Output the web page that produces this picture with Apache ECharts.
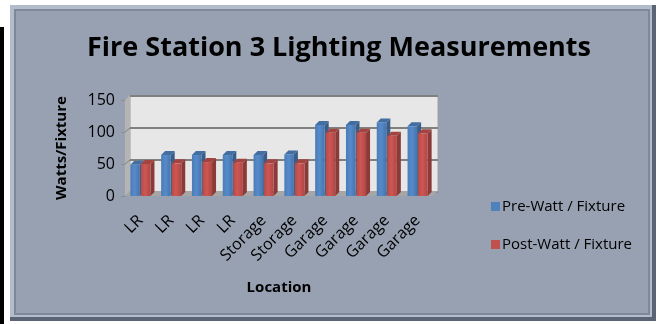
<!DOCTYPE html>
<html>
<head>
<meta charset="utf-8">
<script src="https://cdn.jsdelivr.net/npm/echarts@6/dist/echarts.min.js"></script>
<style>
  html, body { margin: 0; padding: 0; background: #ffffff; }
  #chart { width: 661px; height: 324px; }
</style>
</head>
<body>
<div id="chart"></div>
<script>
// Lighting measurements per fixture location
const locations = ['LR', 'LR', 'LR', 'LR', 'Storage', 'Storage', 'Garage', 'Garage', 'Garage', 'Garage'];
const preWatt = [49, 64, 64, 64, 64, 65, 111, 111, 115, 109];
const postWatt = [50, 51, 53, 52, 51, 51, 99, 99, 94, 98];
const yTicks = [0, 50, 100, 150];

const FONT = "'Liberation Sans Narrow', 'Open Sans', 'Noto Sans', sans-serif";
const DEPTH = 4;

function shade(hex, f) {
  const n = parseInt(hex.slice(1), 16);
  let r = (n >> 16) & 255, g = (n >> 8) & 255, b = n & 255;
  r = Math.max(0, Math.min(255, Math.round(r * f)));
  g = Math.max(0, Math.min(255, Math.round(g * f)));
  b = Math.max(0, Math.min(255, Math.round(b * f)));
  return 'rgb(' + r + ',' + g + ',' + b + ')';
}

// Draws a bar with a simple extruded look: front face, right side and top
function boxRenderer(color, side) {
  return function (params, api) {
    const idx = api.value(0);
    const top = api.coord([idx, api.value(1)]);
    const base = api.coord([idx, 0]);
    const band = api.size([1, 0])[0];
    const bw = band * 0.31;
    const x = side < 0 ? top[0] - bw - 0.5 : top[0] + 0.5;
    const y = top[1];
    const h = base[1] - top[1];
    return {
      type: 'group',
      children: [
        {
          type: 'polygon',
          shape: { points: [[x + bw, y], [x + bw + DEPTH, y - DEPTH], [x + bw + DEPTH, y + h - DEPTH], [x + bw, y + h]] },
          style: { fill: shade(color, 0.72) }
        },
        {
          type: 'polygon',
          shape: { points: [[x, y], [x + DEPTH, y - DEPTH], [x + bw + DEPTH, y - DEPTH], [x + bw, y]] },
          style: { fill: shade(color, 0.85) }
        },
        {
          type: 'rect',
          shape: { x: x, y: y, width: bw, height: h },
          style: {
            fill: {
              type: 'linear', x: 0, y: 0, x2: 1, y2: 0,
              colorStops: [
                { offset: 0, color: shade(color, 0.95) },
                { offset: 0.45, color: shade(color, 1.08) },
                { offset: 1, color: shade(color, 0.9) }
              ]
            }
          }
        }
      ]
    };
  };
}

// Slanted gridline stubs over the side wall, joining the front axis to the back wall
function stubRenderer(params, api) {
  const cs = params.coordSys;
  const c = api.coord([0, api.value(1)]);
  return {
    type: 'line',
    shape: { x1: cs.x - DEPTH - 1, y1: c[1] + DEPTH, x2: cs.x, y2: c[1] },
    style: { stroke: '#808080', lineWidth: 1 }
  };
}

function toData(values) {
  return values.map(function (v, i) { return [i, v]; });
}

const chart = echarts.init(document.getElementById('chart'), null, { renderer: 'canvas' });

chart.setOption({
  backgroundColor: '#ffffff',
  animation: false,
  graphic: [
    { type: 'rect', shape: { x: 0, y: 27, width: 4, height: 297 }, style: { fill: '#000000' }, z: -10 },
    // panel with bevelled frame
    { type: 'rect', shape: { x: 10, y: 5, width: 646, height: 316 }, style: { fill: '#5b6472' }, z: -10 },
    { type: 'rect', shape: { x: 10, y: 5, width: 642, height: 312 }, style: { fill: '#b3bccb' }, z: -10 },
    { type: 'rect', shape: { x: 14, y: 9, width: 636, height: 306 }, style: { fill: '#7f8898' }, z: -10 },
    { type: 'rect', shape: { x: 16, y: 11, width: 632, height: 302 }, style: { fill: '#97a1b1' }, z: -10 },
    // side wall and floor of the plot
    { type: 'polygon', shape: { points: [[125, 100], [130, 95], [130, 191], [125, 196]] }, style: { fill: '#b4b4b4' }, z: 1 },
    { type: 'polygon', shape: { points: [[125, 196], [130, 191], [438, 191], [433, 196]] }, style: { fill: '#a6a6a6' }, z: 1 }
  ],
  title: {
    text: 'Fire Station 3 Lighting Measurements',
    left: 334,
    textAlign: 'center',
    top: 30,
    textStyle: { fontFamily: FONT, fontWeight: 'bold', fontSize: 27, color: '#000000' }
  },
  legend: {
    orient: 'vertical',
    left: 486,
    top: 194,
    itemWidth: 9,
    itemHeight: 9,
    itemGap: 23,
    icon: 'rect',
    textStyle: { fontFamily: FONT, fontSize: 15, color: '#000000', padding: [0, 0, 0, -3] },
    data: ['Pre-Watt / Fixture', 'Post-Watt / Fixture']
  },
  grid: [
    // front plane: bars and axes
    { left: 125, right: 228, top: 100, bottom: 128, containLabel: false },
    // back wall, set back by the bar depth, carrying the gridlines
    { left: 130, right: 223, top: 96, bottom: 132, containLabel: false, show: true, backgroundColor: '#e7e7e7', borderColor: '#a0a0a0', borderWidth: 1 }
  ],
  xAxis: [
    {
      type: 'category',
      gridIndex: 0,
      data: locations,
      name: 'Location',
      nameLocation: 'middle',
      nameGap: 84,
      nameTextStyle: { fontFamily: FONT, fontWeight: 'bold', fontSize: 15, color: '#000000' },
      axisLine: { show: false },
      axisTick: { show: false },
      axisLabel: { rotate: 45, interval: 0, margin: 22, fontFamily: FONT, fontSize: 16, color: '#000000' }
    },
    {
      type: 'category',
      gridIndex: 1,
      data: locations,
      axisLine: { show: false },
      axisTick: { show: false },
      axisLabel: { show: false }
    }
  ],
  yAxis: [
    {
      type: 'value',
      gridIndex: 0,
      min: yTicks[0],
      max: yTicks[yTicks.length - 1],
      interval: 50,
      name: 'Watts/Fixture',
      nameLocation: 'middle',
      nameGap: 56,
      nameRotate: 90,
      nameTextStyle: { fontFamily: 'Open Sans, sans-serif', fontWeight: 'bold', fontSize: 15, color: '#000000' },
      axisLine: { show: true, lineStyle: { color: '#8c8c8c', width: 1 } },
      axisTick: { show: true, length: 4, lineStyle: { color: '#8c8c8c' } },
      axisLabel: { margin: 10, fontFamily: FONT, fontSize: 16, color: '#000000' },
      splitLine: { show: false }
    },
    {
      type: 'value',
      gridIndex: 1,
      min: yTicks[0],
      max: yTicks[yTicks.length - 1],
      interval: 50,
      axisLine: { show: false },
      axisTick: { show: false },
      axisLabel: { show: false },
      splitLine: { show: true, lineStyle: { color: '#808080', width: 2 } }
    }
  ],
  series: [
    {
      type: 'custom',
      xAxisIndex: 1,
      yAxisIndex: 1,
      silent: true,
      renderItem: stubRenderer,
      data: yTicks.slice(1, 3).map(function (v) { return [0, v]; })
    },
    {
      name: 'Pre-Watt / Fixture',
      type: 'custom',
      xAxisIndex: 0,
      yAxisIndex: 0,
      itemStyle: { color: '#4f81bd' },
      renderItem: boxRenderer('#4f81bd', -1),
      data: toData(preWatt),
      z: 3
    },
    {
      name: 'Post-Watt / Fixture',
      type: 'custom',
      xAxisIndex: 0,
      yAxisIndex: 0,
      itemStyle: { color: '#c0504d' },
      renderItem: boxRenderer('#c0504d', 1),
      data: toData(postWatt),
      z: 4
    }
  ]
});
</script>
</body>
</html>
